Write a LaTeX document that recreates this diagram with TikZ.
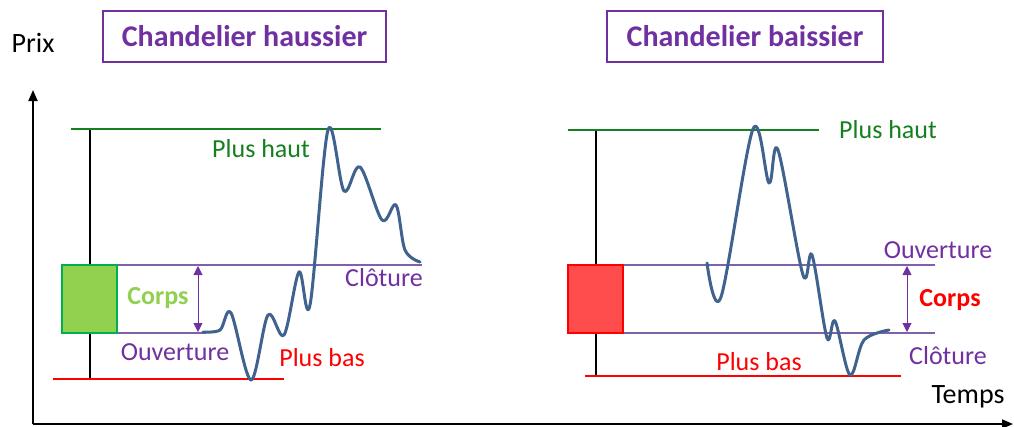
\documentclass[tikz,border=0pt]{standalone}
\usepackage{fontspec}
\setmainfont{Carlito}
\usetikzlibrary{arrows.meta}
\definecolor{wave}{RGB}{64,98,142}
\definecolor{hiline}{RGB}{20,128,30}
\definecolor{lvl}{RGB}{128,96,168}
\definecolor{lbl}{RGB}{112,48,160}
\definecolor{upfill}{RGB}{146,208,80}
\definecolor{upedge}{RGB}{0,176,80}
\definecolor{dnfill}{RGB}{255,76,76}
\tikzset{
  title/.style={draw=lbl, line width=1.2pt, minimum width=#1, minimum height=51pt,
    inner sep=0pt, text=lbl, font=\fontsize{30}{32}\selectfont\bfseries},
  lab/.style={inner sep=0pt, font=\fontsize{26}{28}\selectfont},
  axislab/.style={inner sep=0pt, font=\fontsize{28}{30}\selectfont},
  hiline/.style={draw=hiline, line width=1.3pt},
  loline/.style={draw=red, line width=1.3pt},
  lvline/.style={draw=lvl, line width=1.3pt},
  wick/.style={draw=black, line width=2.5pt},
  price/.style={draw=wave, line width=3pt, line cap=round, line join=round},
  span/.style={draw=lbl, line width=0.9pt, {Triangle[width=9pt,length=9pt]}-{Triangle[width=9pt,length=9pt]}},
  axis/.style={draw=black, line width=1.8pt, -{Triangle[width=9pt,length=11pt]}}
}
\begin{document}
\begin{tikzpicture}[x=1pt,y=-1pt]
\useasboundingbox (0,0) rectangle (1014,426);
\fill[white] (0,0) rectangle (1014,426);

% axes
\coordinate (O) at (33,424);
\coordinate (ytop) at (33,90);
\coordinate (xend) at (1013,424);
\draw[axis] (O) -- (ytop);
\draw[axis] (O) -- (xend);
\node[axislab] (prix) at (33,43) {Prix};
\node[axislab] (temps) at (968,397) {Temps};

% titles
\node[title=283pt] (t1) at (244.5,36.5) {Chandelier haussier};
\node[title=276pt] (t2) at (745,36.5) {Chandelier baissier};

% ---------- bullish candle ----------
\coordinate (h1a) at (71,129);  \coordinate (h1b) at (381,129);
\coordinate (l1a) at (53,379);  \coordinate (l1b) at (284,379);
\coordinate (w1t) at (90,130);  \coordinate (w1b) at (90,379);
\coordinate (c1a) at (117,265); \coordinate (c1b) at (422,265);
\coordinate (o1a) at (117,333); \coordinate (o1b) at (206,333);
\draw[wick] (w1t) -- (w1b);
\draw[hiline] (h1a) -- (h1b);
\draw[loline] (l1a) -- (l1b);
\draw[lvline] (c1a) -- (c1b);
\draw[lvline] (o1a) -- (o1b);
\draw[fill=upfill, draw=upedge, line width=2.2pt] (62,265) rectangle (117,333);
\draw[span] (198,266) -- (198,332);
\draw[price] plot[smooth, tension=0.55] coordinates {
  (203,332) (220,330) (231,313) (251,380) (268,315) (284,335) (299,272)
  (310,305) (328,130) (344,191) (360,167) (382,220) (396,205) (405,250) (420,262)};
\node[lab, text=hiline] (ph1) at (261,149) {Plus haut};
\node[lab, text=red] (pb1) at (322,358) {Plus bas};
\node[lab, text=lbl] (cl1) at (384,278) {Clôture};
\node[lab, text=lbl] (ov1) at (175,352) {Ouverture};
\node[lab, text=upfill, font=\fontsize{26}{28}\selectfont\bfseries] (co1) at (158,298) {Corps};

% ---------- bearish candle ----------
\coordinate (h2a) at (568,130); \coordinate (h2b) at (819,130);
\coordinate (l2a) at (585,376); \coordinate (l2b) at (901,376);
\coordinate (w2t) at (596,130); \coordinate (w2b) at (596,376);
\coordinate (o2a) at (623,265); \coordinate (o2b) at (935,265);
\coordinate (c2a) at (623,333); \coordinate (c2b) at (935,333);
\draw[wick] (w2t) -- (w2b);
\draw[hiline] (h2a) -- (h2b);
\draw[loline] (l2a) -- (l2b);
\draw[lvline] (o2a) -- (o2b);
\draw[lvline] (c2a) -- (c2b);
\draw[fill=dnfill, draw=red, line width=2.2pt] (568,265) rectangle (623,333);
\draw[span] (907,266) -- (907,332);
\draw[price] plot[smooth, tension=0.55] coordinates {
  (707,263) (721,297) (753,129) (769,183) (778,150) (803,275) (812,255)
  (827,338) (835,321) (850,375) (864,340) (889,330)};
\node[lab, text=hiline] (ph2) at (888,130) {Plus haut};
\node[lab, text=red] (pb2) at (759,362) {Plus bas};
\node[lab, text=lbl] (ov2) at (938,250) {Ouverture};
\node[lab, text=lbl] (cl2) at (948,356) {Clôture};
\node[lab, text=red, font=\fontsize{26}{28}\selectfont\bfseries] (co2) at (950,300) {Corps};
\end{tikzpicture}
\end{document}
